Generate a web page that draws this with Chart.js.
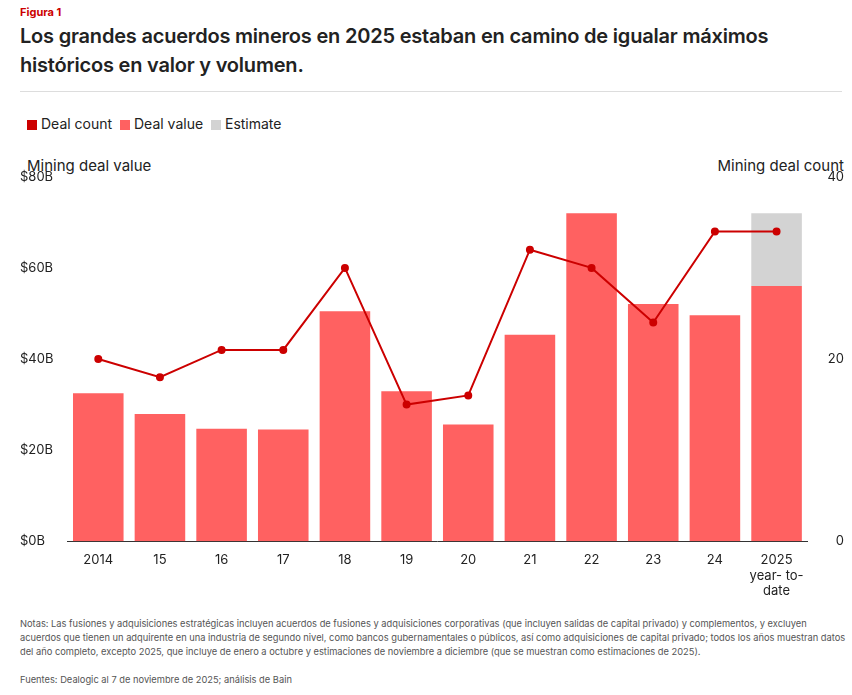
<!DOCTYPE html>
<html><head><meta charset="utf-8">
<script src="https://cdn.jsdelivr.net/npm/chart.js@4"></script>
<style>
body{margin:0;background:#fff;font-family:Inter,"Noto Sans",sans-serif;color:#222;width:852px}
.fig{color:#cc0000;font-size:11px;font-weight:700;position:absolute;left:20px;top:5px}
h1{position:absolute;left:20px;top:22px;margin:0;font-size:20px;font-weight:600;line-height:29px;width:800px;letter-spacing:-0.2px}
.rule{position:absolute;left:20px;right:10px;top:91px;border-top:1px solid #ddd}
.legend{position:absolute;left:27px;top:115px;font-size:14px}
.legend span{display:inline-block;width:10px;height:10px;margin-right:4px;vertical-align:-1px}
.at{position:absolute;top:156px;font-size:15px}
.wrap{position:absolute;left:0;top:163px;width:852px;height:439px}
.notes{position:absolute;left:20px;top:617px;font-size:9.3px;color:#555;line-height:14px;width:830px}
</style></head><body>
<div class="fig">Figura 1</div>
<h1>Los grandes acuerdos mineros en 2025 estaban en camino de igualar máximos históricos en valor y volumen.</h1>
<div class="rule"></div>
<div class="legend"><span style="background:#cc0000"></span>Deal count &nbsp;<span style="background:#ff6161"></span>Deal value &nbsp;<span style="background:#d3d3d3"></span>Estimate</div>
<div class="at" style="left:27px">Mining deal value</div>
<div class="at" style="right:8px">Mining deal count</div>
<div class="wrap"><canvas id="c"></canvas></div>
<div class="notes">Notas: Las fusiones y adquisiciones estratégicas incluyen acuerdos de fusiones y adquisiciones corporativas (que incluyen salidas de capital privado) y complementos, y excluyen acuerdos que tienen un adquirente en una industria de segundo nivel, como bancos gubernamentales o públicos, así como adquisiciones de capital privado; todos los años muestran datos del año completo, excepto 2025, que incluye de enero a octubre y estimaciones de noviembre a diciembre (que se muestran como estimaciones de 2025).<br><br style="line-height:6px">Fuentes: Dealogic al 7 de noviembre de 2025; análisis de Bain</div>
<script>
const years = ['2014', '15', '16', '17', '18', '19', '20', '21', '22', '23', '24', ['2025', 'year- to-', 'date']];
const dealValue = [32.5, 27.9, 24.7, 24.5, 50.5, 32.9, 25.6, 45.3, 72, 52.1, 49.6, 56];
const estimate = [0, 0, 0, 0, 0, 0, 0, 0, 0, 0, 0, 16];
const dealCount = [20, 18, 21, 21, 30, 15, 16, 32, 30, 24, 34, 34];

new Chart(document.getElementById('c'), {
    data: {
        labels: years,
        datasets: [
            { type: 'line', label: 'Deal count', data: dealCount, yAxisID: 'y1', borderColor: '#cc0000', backgroundColor: '#cc0000', borderWidth: 2, pointRadius: 3, tension: 0, order: 0 },
            { type: 'bar', label: 'Deal value', data: dealValue, yAxisID: 'y', backgroundColor: '#ff6161', stack: 's', categoryPercentage: 0.82, barPercentage: 1, order: 1 },
            { type: 'bar', label: 'Estimate', data: estimate, yAxisID: 'y', backgroundColor: '#d3d3d3', stack: 's', categoryPercentage: 0.82, barPercentage: 1, order: 1 }
        ]
    },
    options: {
        responsive: true, maintainAspectRatio: false, animation: false,
        layout: { padding: { left: 20, right: 8, top: 8 } },
        plugins: { legend: { display: false }, tooltip: { enabled: false } },
        scales: {
            x: { stacked: true, grid: { display: false }, border: { color: '#333' }, ticks: { color: '#222', font: { size: 13, family: 'Inter' }, maxRotation: 0, autoSkip: false } },
            y: { stacked: true, min: 0, max: 80, grid: { display: false }, border: { display: false },
                 ticks: { stepSize: 20, crossAlign: 'far', color: '#222', font: { size: 13, family: 'Inter' }, callback: v => '$' + v + 'B' } },
            y1: { position: 'right', min: 0, max: 40, grid: { display: false }, border: { display: false },
                  ticks: { stepSize: 20, crossAlign: 'far', padding: 6, color: '#222', font: { size: 13, family: 'Inter' } } }
        }
    }
});
</script>
</body></html>
